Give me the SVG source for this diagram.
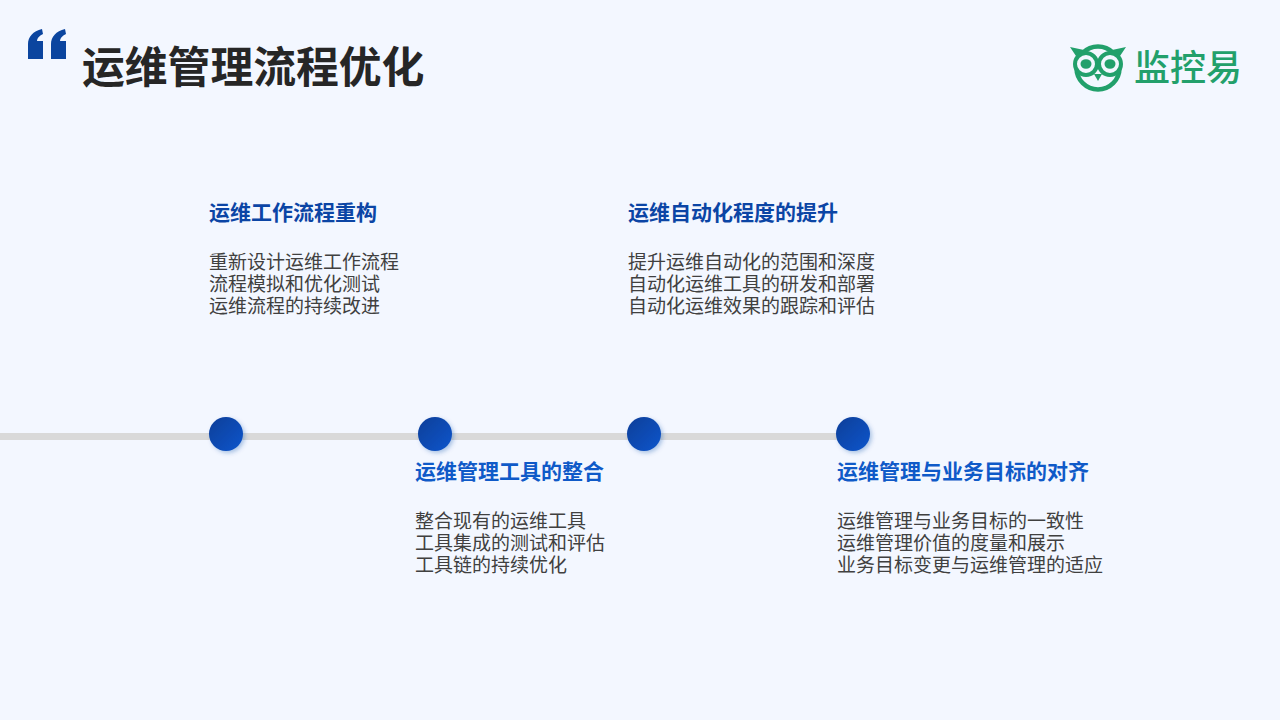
<svg xmlns="http://www.w3.org/2000/svg" width="1280" height="720" viewBox="0 0 1280 720">
<style>
text{font-family:"Noto Sans CJK SC","Noto Sans",sans-serif}
.t{font-size:42.800px;font-weight:700;fill:#262626}
.h1{font-size:21px;font-weight:700;fill:#0B45A5}
.h2{font-size:21px;font-weight:700;fill:#0F5AC8}
.b{font-size:19px;fill:#404040}
.g{fill:#22A06B}
.ln{fill:none;stroke:#22A06B}
.eye{fill:#F3F7FF;stroke:#22A06B;stroke-width:4}
.dot{fill:url(#dg);filter:url(#ds)}
</style>
<defs>
<linearGradient id="dg" x1="0" y1="0" x2="1" y2="1"><stop offset="0" stop-color="#0A3E98"/><stop offset="1" stop-color="#0C56CC"/></linearGradient>
<filter id="ds" x="-30%" y="-30%" width="170%" height="170%"><feDropShadow dx="2" dy="2" stdDeviation="2" flood-color="#0B45A5" flood-opacity=".3"/></filter>
</defs>
<rect width="1280" height="720" fill="#F3F7FF"/>
<path id="quote" fill="#0B459F" d="M28 59V44C28 37 33 31 42 29L43 34C39 36 37 38 37 41H43V59ZM51 59V44C51 37 56 31 65 29L66 34C62 36 60 38 60 41H66V59Z"/>
<text class="t" x="82" y="82.500">运维管理流程优化</text>
<g id="logo">
<circle class="ln" cx="1098" cy="68" r="21.500" stroke-width="4.500"/>
<path class="g" d="M1070 47L1084 50L1078 59ZM1126 47L1112 50L1118 59Z"/>
<circle class="eye" cx="1086" cy="64" r="11"/>
<circle class="eye" cx="1110" cy="64" r="11"/>
<ellipse cx="1086" cy="64" rx="5.500" ry="4.800" class="g"/>
<ellipse cx="1110" cy="64" rx="5.500" ry="4.800" class="g"/>
<path class="g" d="M1094 74H1102L1098 81Z"/>
<text x="1134" y="81" font-size="36" font-weight="500" class="g" textLength="108" lengthAdjust="spacingAndGlyphs">监控易</text>
</g>
<g id="connectors"><rect x="0" y="433" width="853" height="7" fill="#D9D9D9"/></g>
<g id="node1">
<circle class="dot" cx="226" cy="434" r="17"/>
<text class="h1" x="209" y="220">运维工作流程重构</text>
<text class="b"><tspan x="209" y="269">重新设计运维工作流程</tspan><tspan x="209" y="291">流程模拟和优化测试</tspan><tspan x="209" y="313">运维流程的持续改进</tspan></text>
</g>
<g id="node2">
<circle class="dot" cx="435" cy="434" r="17"/>
<text class="h2" x="415" y="479">运维管理工具的整合</text>
<text class="b"><tspan x="415" y="528">整合现有的运维工具</tspan><tspan x="415" y="550">工具集成的测试和评估</tspan><tspan x="415" y="572">工具链的持续优化</tspan></text>
</g>
<g id="node3">
<circle class="dot" cx="644" cy="434" r="17"/>
<text class="h1" x="628" y="220">运维自动化程度的提升</text>
<text class="b"><tspan x="628" y="269">提升运维自动化的范围和深度</tspan><tspan x="628" y="291">自动化运维工具的研发和部署</tspan><tspan x="628" y="313">自动化运维效果的跟踪和评估</tspan></text>
</g>
<g id="node4">
<circle class="dot" cx="853" cy="434" r="17"/>
<text class="h2" x="837" y="479">运维管理与业务目标的对齐</text>
<text class="b"><tspan x="837" y="528">运维管理与业务目标的一致性</tspan><tspan x="837" y="550">运维管理价值的度量和展示</tspan><tspan x="837" y="572">业务目标变更与运维管理的适应</tspan></text>
</g>
</svg>
